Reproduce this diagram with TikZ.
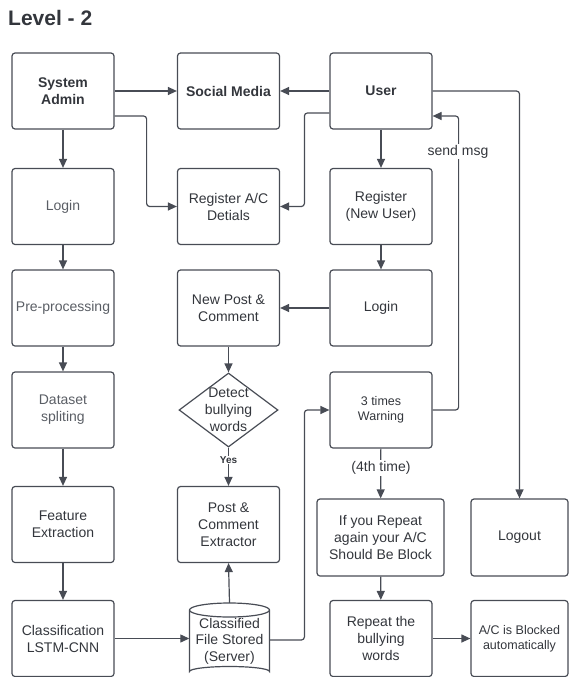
\documentclass[tikz,border=0pt]{standalone}
\usepackage{fontspec}
\setmainfont{Liberation Sans}
\usetikzlibrary{shapes.geometric,arrows.meta,calc}
\definecolor{linec}{HTML}{484C55}
\definecolor{txtc}{HTML}{33363C}
\definecolor{softc}{HTML}{5A5E65}
\tikzset{
  stepbox/.style={draw=linec, line width=1.2pt, rounded corners=3pt,
    minimum width=102pt, minimum height=76pt, inner sep=0pt, align=center,
    text=txtc, font=\fontsize{14}{17}\selectfont},
  boldbox/.style={stepbox, font=\fontsize{14}{17}\selectfont\bfseries},
  softbox/.style={stepbox, text=softc},
  smallbox/.style={stepbox, font=\fontsize{12.5}{15}\selectfont},
  conn/.style={draw=linec, line width=1.2pt, rounded corners=3pt,
    -{Triangle[length=9pt,width=8pt]}},
  lbl/.style={fill=white, inner sep=1pt, text=txtc, font=\fontsize{14}{17}\selectfont},
}
\begin{document}
\begin{tikzpicture}[x=1pt,y=-1pt]
\useasboundingbox (0,0) rectangle (570,677);

% heading
\node[anchor=base west, inner sep=0, text=txtc, font=\fontsize{21}{25}\selectfont\bfseries] (title) at (8,26) {Level - 2};

% left column: admin side
\node[boldbox] (sa)  at (63,91)    {System\\Admin};
\node[softbox] (lg1) at (63,206.5) {Login};
\node[softbox] (pre) at (63,308)   {Pre-processing};
\node[softbox] (ds)  at (63,410)   {Dataset\\spliting};
\node[stepbox] (fe)  at (63,524.5) {Feature\\Extraction};
\node[stepbox] (cls) at (63,638.5) {Classification\\LSTM-CNN};

% middle column
\node[boldbox] (sm)  at (228.5,91)    {Social Media};
\node[stepbox] (rac) at (228.5,206.5) {Register A/C\\Detials};
\node[stepbox] (np)  at (228.5,308)   {New Post \&\\Comment};
\node[draw=linec, line width=1.2pt, diamond, minimum width=99pt, minimum height=74pt, inner sep=0pt] (det) at (228.5,410) {};
\node[align=center, text=txtc, font=\fontsize{14}{17}\selectfont] (dett) at (det) {Detect\\bullying\\words};
\node[stepbox] (pce) at (228.5,524.5) {Post \&\\Comment\\Extractor};

% storage cylinder
\draw[draw=linec, line width=1.2pt, fill=white]
  (189.5,610) -- (189.5,671.5) arc[start angle=180, end angle=360, x radius=40, y radius=5]
  -- (269.5,610) arc[start angle=0, end angle=-180, x radius=40, y radius=7]
  arc[start angle=180, end angle=0, x radius=40, y radius=7];
\node[minimum width=80pt, minimum height=74pt, inner sep=0pt] (cyl) at (229.5,640) {};
\node[align=center, inner sep=0pt, text=txtc, font=\fontsize{14}{16.5}\selectfont] (cylt) at (229.5,641) {Classified\\File Stored\\(Server)};

% right column: user side
\node[boldbox] (us)  at (381,91)    {User};
\node[stepbox] (reg) at (381,206.5) {Register\\(New User)};
\node[stepbox] (lg2) at (381,308)   {Login};
\node[smallbox] (warn) at (381,410) {3 times\\Warning};
\node[stepbox, minimum width=127pt, minimum height=77pt] (rep) at (380.5,537.5) {If you Repeat\\again your A/C\\Should Be Block};
\node[stepbox] (rbw) at (381,638.5) {Repeat the\\bullying\\words};
\node[stepbox, minimum width=97pt, minimum height=77pt] (lo) at (519.5,537.5) {Logout};
\node[smallbox, minimum width=97pt] (blk) at (519.5,638.5) {A/C is Blocked\\automatically};

% admin flow
\draw[conn] (sa) -- (sm);
\draw[conn] ([yshift=-25pt]sa.east) -| ([xshift=32pt]sa.east |- rac.west) -- (rac.west);
\draw[conn] (sa) -- (lg1);
\draw[conn] (lg1) -- (pre);
\draw[conn] (pre) -- (ds);
\draw[conn] (ds) -- (fe);
\draw[conn] (fe) -- (cls);
\draw[conn] (cls.east) -- (cls.east -| cyl.west);

% user flow
\draw[conn] (us) -- (sm);
\draw[conn] ([yshift=-22pt]us.west) -| ([xshift=-25pt]us.west |- rac.east) -- (rac.east);
\draw[conn] (us) -- (reg);
\draw[conn] (us.east) -| (lo.north);
\draw[conn] (reg) -- (lg2);
\draw[conn] (lg2) -- (np);
\draw[conn] (np) -- (det);
\draw[conn] (det.south) -- (pce.north);
\node[fill=white, inner sep=1pt, text=txtc, font=\fontsize{10}{12}\selectfont\bfseries] (yes) at (228.5,460) {Yes};
\draw[conn] (cyl.north) -- (pce.south);
\draw[conn] (cyl.east) -| ([xshift=-25pt]warn.west) -- (warn.west);
\draw[conn] (warn.east) -| ([xshift=26pt,yshift=-25pt]us.east) -- ([yshift=-25pt]us.east);
\node[lbl] (sendmsg) at (458,151.5) {send msg};
\draw[conn] (warn) -- (rep);
\node[lbl] (fourth) at (381,468) {(4th time)};
\draw[conn] (rep) -- (rbw);
\draw[conn] (rbw.east) -- (rbw.east -| blk.west);
\end{tikzpicture}
\end{document}
